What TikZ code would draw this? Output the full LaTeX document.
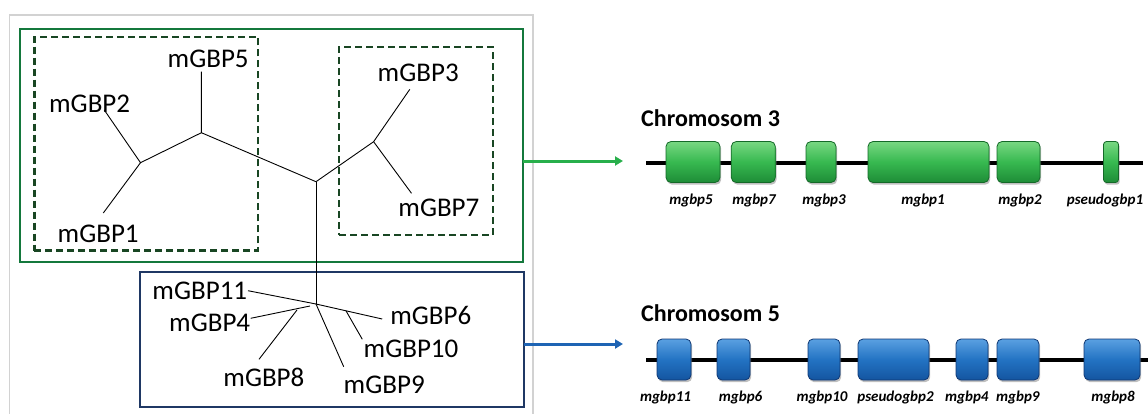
\documentclass[tikz,border=0pt]{standalone}
\usepackage{fontspec}
\setmainfont{Carlito}
\usetikzlibrary{arrows.meta,shadows}
\definecolor{grayframe}{RGB}{210,210,210}
\definecolor{grframe}{RGB}{20,120,60}
\definecolor{grdash}{RGB}{25,70,35}
\definecolor{blframe}{RGB}{31,56,100}
\definecolor{grarrow}{RGB}{40,175,75}
\definecolor{blarrow}{RGB}{30,100,180}
\definecolor{gfill}{RGB}{55,185,80}
\definecolor{gtop}{RGB}{120,215,130}
\definecolor{gbot}{RGB}{30,140,55}
\definecolor{gedge}{RGB}{20,105,40}
\definecolor{bfill}{RGB}{35,115,195}
\definecolor{btop}{RGB}{90,160,225}
\definecolor{bbot}{RGB}{20,85,160}
\definecolor{bedge}{RGB}{15,55,115}
\tikzset{
  frame/.style={draw, inner sep=0pt, outer sep=0pt},
  dashbox/.style={draw=grdash, line width=2.2pt, dash pattern=on 7pt off 4pt, inner sep=0pt, outer sep=0pt},
  branch/.style={line width=0.9pt, black},
  leaf/.style={font=\fontsize{27}{31}\selectfont, inner sep=0pt, text=black},
  chrline/.style={line width=3.2pt, black},
  title/.style={font=\fontsize{24}{28}\selectfont\bfseries, anchor=west, inner sep=0pt},
  glabel/.style={font=\fontsize{15}{17}\selectfont\bfseries\itshape, inner sep=0pt},
  gene3/.style={draw=gedge, line width=0.8pt, rounded corners=5pt, top color=gtop, bottom color=gbot, middle color=gfill, minimum height=41pt, inner sep=0pt, outer sep=0pt, drop shadow={opacity=0.5, shadow xshift=1.2pt, shadow yshift=-2.2pt}},
  gene5/.style={draw=bedge, line width=0.8pt, rounded corners=5pt, top color=btop, bottom color=bbot, middle color=bfill, minimum height=41pt, inner sep=0pt, outer sep=0pt, drop shadow={opacity=0.5, shadow xshift=1.2pt, shadow yshift=-2.2pt}},
  arr/.style={line width=3pt, -{Triangle[length=8pt,width=9pt]}},
}
\begin{document}
\begin{tikzpicture}[x=1pt,y=-1pt]
\useasboundingbox (0,0) rectangle (1148,413);
% outer gray frame
\node[frame, draw=grayframe, line width=1.6pt, minimum width=523.4pt, minimum height=420pt, anchor=north west] (outer) at (9.6,15) {};
% group frames
\node[frame, draw=grframe, line width=2pt, minimum width=503.1pt, minimum height=232.4pt] (grbox) at (271.15,145.5) {};
\node[frame, draw=blframe, line width=2pt, minimum width=384.5pt, minimum height=135pt] (blbox) at (331.75,339.2) {};
\node[dashbox, minimum width=223.9pt, minimum height=213.6pt] (dash1) at (146.35,143.7) {};
\node[dashbox, minimum width=153.8pt, minimum height=188pt] (dash2) at (416.1,140.7) {};
% tree coordinates
\coordinate (A) at (201.4,132.7);
\coordinate (B) at (140.5,162.7);
\coordinate (C) at (316,181.7);
\coordinate (D) at (373.6,141.7);
\coordinate (l5) at (201.4,71.7);
\coordinate (l2) at (104.3,110);
\coordinate (l1) at (103.3,213);
\coordinate (l3) at (409.8,89.3);
\coordinate (l7) at (411.5,193.3);
\coordinate (H) at (316,304);
\coordinate (l11) at (248,290.7);
\coordinate (l4) at (250.7,318.3);
\coordinate (k4) at (310,306);
\coordinate (l8) at (259,359.3);
\coordinate (k8) at (297,310);
\coordinate (l9) at (343.7,366.7);
\coordinate (l6) at (382.2,319);
\coordinate (k10) at (346,310.8);
\coordinate (l10) at (362.3,339.3);
\draw[branch] (l5) -- (A) -- (B) -- (l2);
\draw[branch] (B) -- (l1);
\draw[branch] (A) -- (C) -- (D) -- (l3);
\draw[branch] (D) -- (l7);
\draw[branch] (C) -- (H);
\draw[branch] (l11) -- (H) -- (l6);
\draw[branch] (l4) -- (k4);
\draw[branch] (l8) -- (k8);
\draw[branch] (H) -- (l9);
\draw[branch] (k10) -- (l10);
% leaf labels
\node[leaf] (t5) at (208.2,59.3) {mGBP5};
\node[leaf] (t2) at (89.6,104) {mGBP2};
\node[leaf] (t1) at (98.2,234) {mGBP1};
\node[leaf] (t3) at (418.2,72.7) {mGBP3};
\node[leaf] (t7) at (438.9,208.3) {mGBP7};
\node[leaf] (t11) at (199.8,290.7) {mGBP11};
\node[leaf] (t4) at (209.7,323.3) {mGBP4};
\node[leaf] (t6) at (430.8,315.7) {mGBP6};
\node[leaf] (t10) at (411,349.3) {mGBP10};
\node[leaf] (t8) at (263.9,377.3) {mGBP8};
\node[leaf] (t9) at (384.2,385) {mGBP9};
% arrows
\coordinate (a3) at (623,161);
\coordinate (a5) at (623,344);
\draw[arr, grarrow] (grbox.east |- a3) -- (a3);
\draw[arr, blarrow] (blbox.east |- a5) -- (a5);
% chromosome 3
\node[title] (chr3) at (641,118) {Chromosom 3};
\coordinate (c3s) at (646,163);
\coordinate (c3e) at (1143,163);
\draw[chrline] (c3s) -- (c3e);
\node[gene3, minimum width=54pt] (g5) at (693,162) {};
\node[gene3, minimum width=44pt] (g7) at (753.3,162) {};
\node[gene3, minimum width=30pt] (g3) at (821,162) {};
\node[gene3, minimum width=121pt] (g1) at (928.5,162) {};
\node[gene3, minimum width=43pt] (g2) at (1018.5,162) {};
\node[gene3, minimum width=15pt, rounded corners=3pt] (gp1) at (1111,162) {};
\node[glabel] (n5) at (691,200) {mgbp5};
\node[glabel] (n7) at (754,200) {mgbp7};
\node[glabel] (n3) at (824,200) {mgbp3};
\node[glabel] (n1) at (923,200) {mgbp1};
\node[glabel] (n2) at (1020,200) {mgbp2};
\node[glabel] (np1) at (1105,200) {pseudogbp1};
% chromosome 5
\node[title] (chr5) at (641,313) {Chromosom 5};
\coordinate (c5s) at (646,360);
\coordinate (c5e) at (1150,360);
\draw[chrline] (c5s) -- (c5e);
\node[gene5, minimum width=34pt] (h11) at (674,359.5) {};
\node[gene5, minimum width=33pt] (h6) at (733.5,359.5) {};
\node[gene5, minimum width=32pt] (h10) at (824,359.5) {};
\node[gene5, minimum width=71pt] (hp2) at (893.5,359.5) {};
\node[gene5, minimum width=32pt] (h4) at (972,359.5) {};
\node[gene5, minimum width=42pt] (h9) at (1018,359.5) {};
\node[gene5, minimum width=56pt] (h8) at (1112,359.5) {};
\node[glabel] (m11) at (665.5,397) {mgbp11};
\node[glabel] (m6) at (740.6,397) {mgbp6};
\node[glabel] (m10) at (822,397) {mgbp10};
\node[glabel] (mp2) at (895.5,397) {pseudogbp2};
\node[glabel] (m4) at (966.8,397) {mgbp4};
\node[glabel] (m9) at (1017.8,397) {mgbp9};
\node[glabel] (m8) at (1113,397) {mgbp8};
\end{tikzpicture}
\end{document}
